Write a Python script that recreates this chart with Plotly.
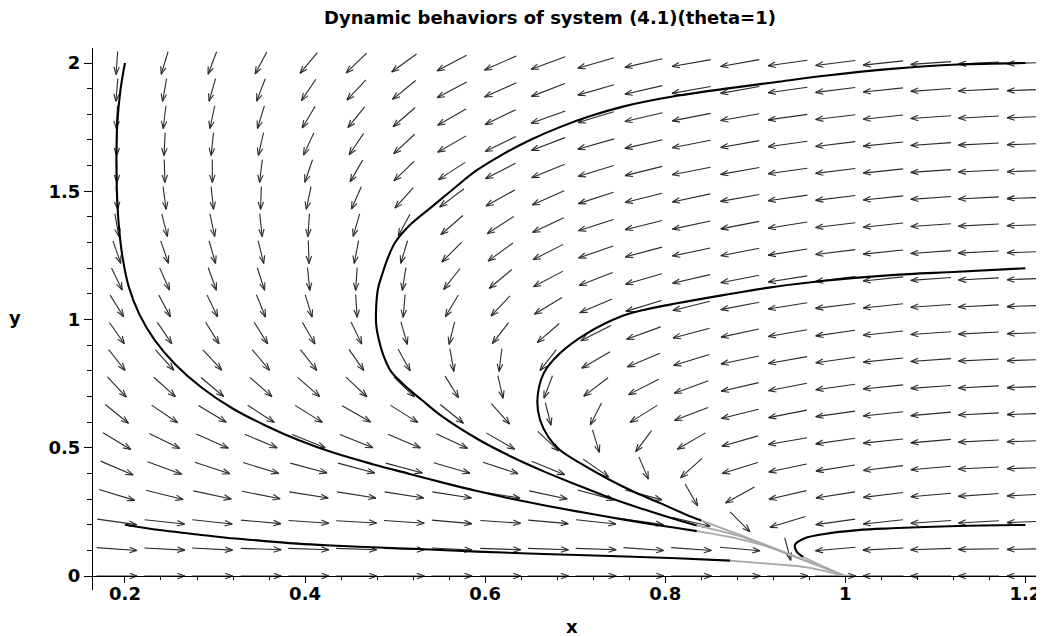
import numpy as np
import plotly.graph_objects as go

# ---------------- data ----------------
X_GRID = [0.191, 0.244, 0.297, 0.351, 0.404, 0.457, 0.510, 0.563, 0.617, 0.670,
          0.723, 0.776, 0.829, 0.883, 0.936, 0.989, 1.042, 1.095, 1.148, 1.202]
Y_GRID = [2.0, 1.895, 1.789, 1.684, 1.579, 1.474, 1.368, 1.263, 1.158, 1.053,
          0.947, 0.842, 0.737, 0.632, 0.526, 0.421, 0.316, 0.211, 0.105, 0.0]
# on-screen direction of each field arrow (degrees, 0 = right, -90 = down), one row per Y_GRID value
ANGLE_ROWS = [
    [-94, -107, -111, -118, -130, -136, -144, -152, -156, -160, -164, -167, -170, -170, -172, -173, -174, -176, -177, -178],
    [-95, -100, -106, -111, -124, -133, -141, -152, -156, -159, -164, -167, -170, -170, -172, -173, -174, -176, -177, -178],
    [-93, -97, -102, -107, -121, -129, -139, -150, -154, -160, -163, -167, -169, -170, -172, -173, -174, -176, -177, -178],
    [-91, -93, -96, -103, -115, -124, -137, -150, -154, -159, -164, -167, -169, -170, -172, -173, -174, -176, -177, -178],
    [-89, -88, -90, -97, -109, -120, -136, -147, -153, -158, -163, -166, -169, -170, -172, -173, -174, -176, -177, -178],
    [-86, -82, -84, -92, -102, -114, -132, -143, -151, -156, -162, -166, -168, -170, -172, -173, -174, -176, -177, -178],
    [-80, -76, -78, -84, -94, -106, -118, -139, -147, -155, -162, -166, -168, -169, -171, -173, -174, -176, -177, -178],
    [-71, -71, -74, -76, -88, -101, -107, -135, -144, -153, -161, -165, -168, -169, -171, -173, -174, -176, -177, -178],
    [-64, -66, -70, -72, -84, -94, -99, -128, -140, -152, -159, -164, -167, -169, -171, -173, -174, -176, -177, -178],
    [-58, -62, -64, -68, -73, -86, -95, -121, -133, -149, -157, -163, -166, -169, -171, -173, -174, -176, -177, -178],
    [-55, -56, -58, -58, -60, -64, -74, -104, -128, -139, -153, -160, -165, -168, -170, -172, -174, -176, -177, -178],
    [-52, -48, -47, -50, -52, -55, -61, -80, -97, -128, -150, -157, -163, -168, -170, -172, -174, -176, -177, -178],
    [-47, -42, -40, -41, -41, -43, -44, -58, -77, -111, -143, -153, -160, -167, -169, -172, -174, -176, -177, -178],
    [-39, -34, -31, -33, -32, -30, -32, -39, -48, -76, -117, -148, -159, -166, -169, -172, -174, -175, -177, -178],
    [-31, -26, -24, -23, -22, -22, -23, -25, -30, -43, -73, -127, -150, -164, -170, -172, -174, -175, -177, -178],
    [-23, -20, -18, -17, -15, -15, -15, -16, -18, -22, -35, -67, -138, -163, -168, -171, -173, -175, -177, -178],
    [-17, -14, -12, -11, -9, -9, -9, -9, -9, -12, -15, -15, -60, -151, -167, -171, -173, -175, -176, -177],
    [-8, -6, -6, -5, -4, -3, -4, -5, -4, -5, -6, -8, -13, -45, -163, -172, -174, -176, -177, -178],
    [-4, -3, -3, -2, -2, -2, -2, -3, -2, -2, -2, -4, -4, -5, -75, -175, -177, -178, -179, -179],
    [0, 0, 0, 0, 0, 0, 0, 0, 0, 0, 0, 0, 0, 0, 0, 0, 180, 180, 180, 180],
]

# trajectories (black part) and their grey tails into (1, 0)
A_X = [0.200, 0.195, 0.1915, 0.1905, 0.191, 0.193, 0.197, 0.204, 0.216, 0.233, 0.256, 0.285, 0.320,
       0.357, 0.394, 0.431, 0.475, 0.516, 0.553, 0.591, 0.628, 0.665, 0.702, 0.739, 0.776, 0.813, 0.835]
A_Y = [2.0, 1.895, 1.765, 1.635, 1.505, 1.375, 1.250, 1.130, 1.020, 0.920, 0.825, 0.735, 0.652,
       0.585, 0.528, 0.481, 0.436, 0.398, 0.364, 0.331, 0.302, 0.276, 0.252, 0.229, 0.207, 0.187, 0.175]
A_TAIL_X = [0.835, 0.85, 0.88, 0.91, 0.94, 0.97, 1.0]
A_TAIL_Y = [0.175, 0.166, 0.146, 0.118, 0.080, 0.040, 0.0]

B_X = [1.2, 1.125, 1.051, 0.977, 0.922, 0.872, 0.813, 0.753, 0.716, 0.683, 0.650, 0.620, 0.590, 0.565,
       0.541, 0.517, 0.500, 0.492, 0.486, 0.481, 0.479, 0.479, 0.482, 0.487, 0.495, 0.510, 0.530, 0.553,
       0.591, 0.628, 0.665, 0.702, 0.739, 0.776, 0.813, 0.835]
B_Y = [2.0, 1.994, 1.977, 1.950, 1.925, 1.902, 1.872, 1.830, 1.792, 1.750, 1.700, 1.645, 1.580, 1.510,
       1.440, 1.370, 1.300, 1.240, 1.180, 1.120, 1.050, 0.980, 0.920, 0.860, 0.800, 0.745, 0.685, 0.620,
       0.535, 0.467, 0.408, 0.355, 0.304, 0.260, 0.219, 0.197]
B_TAIL_X = [0.835, 0.85, 0.88, 0.91, 0.94, 0.97, 1.0]
B_TAIL_Y = [0.197, 0.185, 0.158, 0.121, 0.081, 0.041, 0.0]

C_X = [1.2, 1.125, 1.051, 0.977, 0.922, 0.866, 0.813, 0.776, 0.750, 0.713, 0.683, 0.665, 0.658, 0.661,
       0.670, 0.683, 0.706, 0.732, 0.761, 0.795, 0.824, 0.840]
C_Y = [1.2, 1.186, 1.173, 1.151, 1.128, 1.096, 1.063, 1.037, 1.011, 0.946, 0.868, 0.790, 0.686, 0.608,
       0.543, 0.491, 0.439, 0.387, 0.335, 0.283, 0.238, 0.216]
C_TAIL_X = [0.840, 0.85, 0.88, 0.91, 0.94, 0.97, 1.0]
C_TAIL_Y = [0.216, 0.203, 0.164, 0.123, 0.082, 0.041, 0.0]

D_X = [1.2, 1.125, 1.051, 1.014, 0.977, 0.955, 0.944, 0.946, 0.953]
D_Y = [0.199, 0.195, 0.186, 0.179, 0.164, 0.147, 0.121, 0.095, 0.075]
D_TAIL_X = [0.953, 0.975, 1.0]
D_TAIL_Y = [0.075, 0.038, 0.0]

E_X = [0.2, 0.2385, 0.2755, 0.3125, 0.35, 0.387, 0.4235, 0.46, 0.52, 0.591, 0.665, 0.739, 0.813, 0.872]
E_Y = [0.2, 0.179, 0.164, 0.149, 0.138, 0.127, 0.120, 0.114, 0.106, 0.095, 0.086, 0.078, 0.069, 0.060]
E_TAIL_X = [0.872, 0.92, 0.957, 1.0]
E_TAIL_Y = [0.060, 0.046, 0.034, 0.0]

X_TICKS = [0.2, 0.4, 0.6, 0.8, 1.0, 1.2]
X_TICK_TEXT = ["0.2", "0.4", "0.6", "0.8", "1", "1.2"]
Y_TICKS = [0, 0.5, 1, 1.5, 2]
Y_TICK_TEXT = ["0", "0.5", "1", "1.5", "2"]
TITLE = "Dynamic behaviors of system (4.1)(theta=1)"

# ---------------- layout geometry ----------------
PAGE_OFF = 8                      # default body margin of the html page
W, H = 1044 - PAGE_OFF, 636 - PAGE_OFF
ML, MT = 93 - PAGE_OFF, 48 - PAGE_OFF
PLOT_W, PLOT_H = 951, 542
MR = W - ML - PLOT_W
MB = H - MT - PLOT_H
X_RANGE = [0.1645, 1.2206]
Y_RANGE = [-0.0546, 2.0585]
PX_X = PLOT_W / (X_RANGE[1] - X_RANGE[0])
PX_Y = PLOT_H / (Y_RANGE[1] - Y_RANGE[0])


def paper_xy(page_x, page_y):
    fx, fy = page_x - PAGE_OFF, page_y - PAGE_OFF
    return (fx - ML) / PLOT_W, (MT + PLOT_H - fy) / PLOT_H


# ---------------- direction field arrows ----------------
cell_w = (X_GRID[1] - X_GRID[0]) * PX_X
cell_h = (Y_GRID[0] - Y_GRID[1]) * PX_Y
L = 0.85
HEAD = 8.0
HEAD_ANG = np.radians(20)
ax_, ay_ = [], []
for j, yv in enumerate(Y_GRID):
    for i, xv in enumerate(X_GRID):
        a = np.radians(ANGLE_ROWS[j][i])
        c, s = np.cos(a), np.sin(a)
        k = L / np.hypot(c / cell_w, s / cell_h)
        dxp, dyp = k * c, k * s
        tx, ty = xv - dxp / 2 / PX_X, yv - dyp / 2 / PX_Y
        hx, hy = xv + dxp / 2 / PX_X, yv + dyp / 2 / PX_Y
        ax_ += [tx, hx, None]
        ay_ += [ty, hy, None]
        for sgn in (1, -1):
            b = a + np.pi + sgn * HEAD_ANG
            ax_ += [hx, hx + HEAD * np.cos(b) / PX_X, None]
            ay_ += [hy, hy + HEAD * np.sin(b) / PX_Y, None]

fig = go.Figure()
fig.add_trace(go.Scatter(x=ax_, y=ay_, mode="lines",
                         line=dict(color="#2a2a2a", width=1.1),
                         hoverinfo="skip", showlegend=False))

GREY = "#a8a8a8"
for tx, ty in [(A_TAIL_X, A_TAIL_Y), (B_TAIL_X, B_TAIL_Y), (C_TAIL_X, C_TAIL_Y),
               (D_TAIL_X, D_TAIL_Y), (E_TAIL_X, E_TAIL_Y)]:
    fig.add_trace(go.Scatter(x=tx, y=ty, mode="lines", line=dict(color=GREY, width=1.8, shape="spline"),
                             hoverinfo="skip", showlegend=False))
for cx, cy in [(A_X, A_Y), (B_X, B_Y), (C_X, C_Y), (D_X, D_Y), (E_X, E_Y)]:
    fig.add_trace(go.Scatter(x=cx, y=cy, mode="lines", line=dict(color="black", width=2.1, shape="spline"),
                             hoverinfo="skip", showlegend=False))

FONT = dict(family="DejaVu Sans", size=18, color="black", weight="bold")
zero_pos = (0 - Y_RANGE[0]) / (Y_RANGE[1] - Y_RANGE[0])

tx_, ty_ = paper_xy(550, 17)
xx_, xy_ = paper_xy(572, 626)
yx_, yy_ = paper_xy(15, 317)

fig.update_layout(
    width=W, height=H,
    margin=dict(l=ML, r=MR, t=MT, b=MB, pad=0, autoexpand=False),
    paper_bgcolor="white", plot_bgcolor="white",
    showlegend=False,
    xaxis=dict(range=X_RANGE, anchor="free", position=zero_pos, automargin=False,
               showline=True, linecolor="black", linewidth=1.2,
               ticks="outside", ticklen=6, tickwidth=1, tickcolor="black",
               tickvals=X_TICKS, ticktext=X_TICK_TEXT, tickfont=FONT, ticklabelstandoff=-5,
               minor=dict(ticks="outside", dtick=0.04, tick0=0.2, ticklen=3, tickcolor="black"),
               showgrid=False, zeroline=False),
    yaxis=dict(range=Y_RANGE, showline=True, linecolor="black", linewidth=1.2, automargin=False,
               ticks="outside", ticklen=8, tickwidth=1, tickcolor="black",
               tickvals=Y_TICKS, ticktext=Y_TICK_TEXT, tickfont=FONT,
               minor=dict(ticks="outside", dtick=0.1, tick0=0, ticklen=5, tickcolor="black"),
               showgrid=False, zeroline=False),
    annotations=[
        dict(text=TITLE, xref="paper", yref="paper", x=tx_, y=ty_,
             xanchor="center", yanchor="middle", showarrow=False, font=FONT),
        dict(text="x", xref="paper", yref="paper", x=xx_, y=xy_,
             xanchor="center", yanchor="middle", showarrow=False, font=FONT),
        dict(text="y", xref="paper", yref="paper", x=yx_, y=yy_,
             xanchor="center", yanchor="middle", showarrow=False, font=FONT),
    ],
)

fig.write_html("out.html")
